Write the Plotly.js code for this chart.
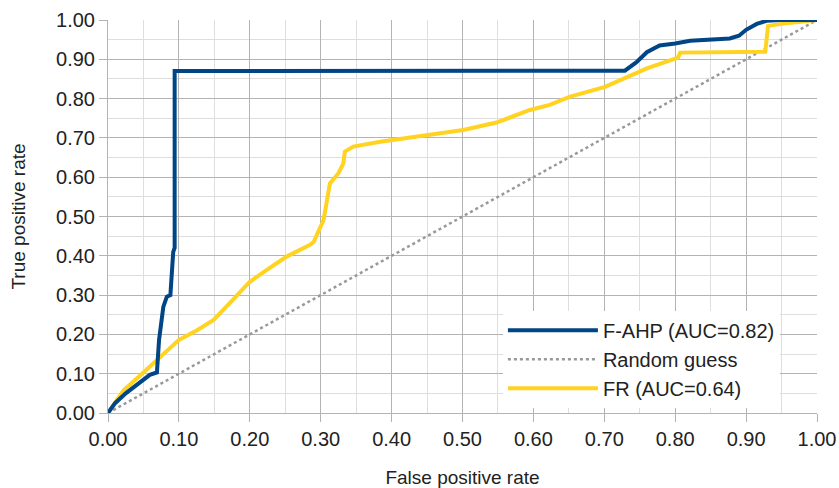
<!DOCTYPE html>
<html>
<head>
<meta charset="utf-8">
<script src="https://cdn.plot.ly/plotly-3.0.1.min.js"></script>
<style>html,body{margin:0;padding:0;background:#fff;}#chart{width:839px;height:488px;}</style>
</head>
<body>
<div id="chart"></div>
<script>
const fahpX = [0, 0.01, 0.025, 0.045, 0.059, 0.069, 0.072, 0.078, 0.083, 0.088, 0.090, 0.092, 0.094, 0.094, 0.729, 0.745, 0.760, 0.778, 0.80, 0.821, 0.877, 0.89, 0.90, 0.915, 0.929, 0.948, 1.0];
const fahpY = [0, 0.025, 0.05, 0.076, 0.097, 0.103, 0.186, 0.27, 0.296, 0.30, 0.364, 0.41, 0.42, 0.87, 0.871, 0.892, 0.918, 0.935, 0.94, 0.947, 0.953, 0.96, 0.975, 0.99, 0.998, 1.0, 1.0];
const frX = [0, 0.022, 0.045, 0.064, 0.083, 0.10, 0.125, 0.149, 0.177, 0.20, 0.224, 0.252, 0.285, 0.29, 0.304, 0.313, 0.325, 0.332, 0.334, 0.346, 0.384, 0.454, 0.501, 0.548, 0.595, 0.623, 0.652, 0.701, 0.732, 0.76, 0.804, 0.807, 0.927, 0.931, 0.957, 1.0];
const frY = [0, 0.058, 0.095, 0.126, 0.16, 0.186, 0.21, 0.237, 0.29, 0.334, 0.364, 0.398, 0.428, 0.435, 0.491, 0.584, 0.61, 0.635, 0.665, 0.678, 0.690, 0.707, 0.72, 0.739, 0.771, 0.784, 0.805, 0.83, 0.854, 0.877, 0.904, 0.917, 0.919, 0.985, 0.992, 1.0];
const randX = [0, 1];
const randY = [0, 1];
const names = ['F-AHP (AUC=0.82)', 'Random guess', 'FR (AUC=0.64)'];
const xTitle = 'False positive rate';
const yTitle = 'True positive rate';

const font = 'Liberation Sans, Arial, sans-serif';
const traces = [
  {x: randX, y: randY, name: names[1], mode: 'lines', legendrank: 2,
   line: {color: '#999999', width: 2.5, dash: 'dot'}},
  {x: frX, y: frY, name: names[2], mode: 'lines', legendrank: 3,
   line: {color: '#ffd320', width: 4}},
  {x: fahpX, y: fahpY, name: names[0], mode: 'lines', legendrank: 1,
   line: {color: '#004586', width: 4}}
];
const axisCommon = {
  range: [0, 1], dtick: 0.1, tick0: 0, tickformat: '.2f',
  showgrid: true, gridcolor: '#b3b3b3', gridwidth: 1,
  zeroline: false, showline: true, linecolor: '#b3b3b3', linewidth: 1,
  ticks: 'outside', ticklen: 8, tickcolor: '#b3b3b3',
  tickfont: {family: font, size: 20, color: '#222'},
  minor: {dtick: 0.05, showgrid: true, gridcolor: '#dedede', gridwidth: 1}
};
const layout = {
  width: 839, height: 488,
  margin: {l: 108, r: 22, t: 20, b: 75},
  paper_bgcolor: '#fff', plot_bgcolor: '#fff',
  font: {family: font, color: '#222'},
  showlegend: true,
  legend: {x: 0.557, y: 0.26, xanchor: 'left', yanchor: 'top',
           bgcolor: '#ffffff', borderwidth: 0, itemwidth: 90,
           font: {family: font, size: 20, color: '#222'}},
  xaxis: Object.assign({}, axisCommon, {
    title: {text: xTitle, font: {family: font, size: 19, color: '#222'}, standoff: 22}
  }),
  yaxis: Object.assign({}, axisCommon, {
    title: {text: yTitle, font: {family: font, size: 19, color: '#222'}, standoff: 25}
  })
};
Plotly.newPlot('chart', traces, layout, {displayModeBar: false, staticPlot: true});
</script>
</body>
</html>
